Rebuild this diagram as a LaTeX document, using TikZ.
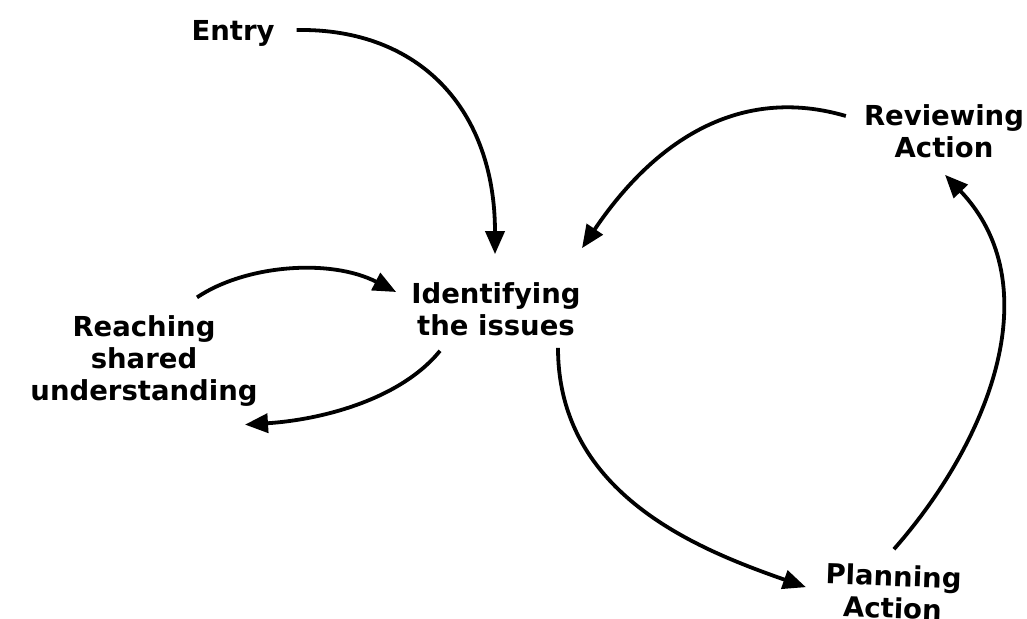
\documentclass[tikz,border=0pt]{standalone}
\usepackage{fontspec}
\setmainfont{DejaVu Sans}
\usetikzlibrary{arrows.meta, positioning}

\begin{document}
\begin{tikzpicture}[x=1pt, y=-1pt,
    stage/.style={font=\fontsize{27.5}{32}\selectfont\bfseries, align=center, inner sep=0pt},
    flow/.style={line width=3.8pt, -{Triangle[length=23pt, width=19pt]}}]
  \useasboundingbox (0,0) rectangle (1027,618);

  \node [stage] (entry)  at (233,33)  {Entry};
  \node [stage] (ident)  at (496,309) {Identifying\\the issues};
  \node [stage] (reach)  at (144,361) {Reaching\\shared\\understanding};
  \node [stage] (review) at (944,131) {Reviewing\\Action};
  \node [stage, rotate=-2] (plan) at (893,592) {Planning\\Action};

  \draw [flow] ([shift={(22,-3)}]entry.east) .. controls (420,28) and (495,110) .. ([shift={(-1,-28)}]ident.north);
  \draw [flow] ([shift={(53,-18)}]reach.north) .. controls (245,265) and (330,258) .. ([shift={(-15,-17)}]ident.west);
  \draw [flow] ([shift={(-56,15)}]ident.south) .. controls (400,400) and (320,420) .. ([shift={(101,18)}]reach.south);
  \draw [flow] ([shift={(62,12)}]ident.south) .. controls (558,495) and (700,550) .. ([shift={(-88,22)}]plan.north);
  \draw [flow] ([shift={(0,-16)}]plan.north) .. controls (990,440) and (1050,285) .. ([shift={(1,17)}]review.south);
  \draw [flow] ([shift={(-18,-15)}]review.west) .. controls (740,85) and (655,140) .. ([shift={(86,-34)}]ident.north);
\end{tikzpicture}
\end{document}
